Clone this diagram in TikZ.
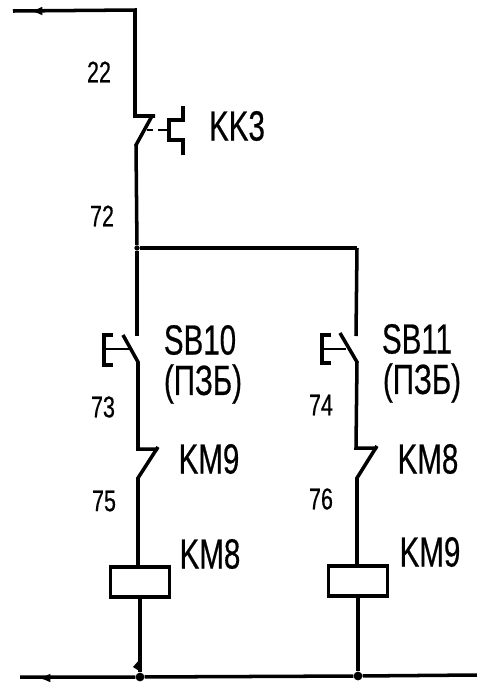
\documentclass[tikz,border=0pt]{standalone}
\usepackage{fontspec}
\setmainfont{Liberation Sans}
\newfontfamily\lblfont{Liberation Sans}[FakeBold=0.6]
\usetikzlibrary{arrows.meta}
\tikzset{
  wire/.style={line width=2pt,line join=miter},
  tip/.style={line width=2pt,-{Latex[length=7pt,width=5pt]}},
  coil/.style={draw,line width=2pt,minimum width=1.18cm,minimum height=0.6cm,inner sep=0pt},
  dot/.style={circle,fill,inner sep=0pt,minimum size=5pt},
  tag/.style={font=\lblfont\fontsize{24}{26}\selectfont,xscale=0.7,inner sep=0pt,align=center},
  num/.style={font=\lblfont\fontsize{17}{20}\selectfont,xscale=0.72,inner sep=0pt}
}
\begin{document}
\begin{tikzpicture}[x=0.02cm,y=-0.02cm]
  \useasboundingbox (0,0) rectangle (477,684);

  \coordinate (inL) at (13,11);
  \coordinate (inT) at (135,10);
  \coordinate (kkA) at (135,116);
  \coordinate (kkB) at (155,116);
  \coordinate (kkC) at (136,145);
  \node[dot,minimum size=3pt] (fork) at (137,248) {};
  \coordinate (forkR) at (357,248);
  \coordinate (busL) at (20,677);
  \coordinate (busR) at (477,675);

  \node[num] (n22) at (99,72) {22};
  \node[num] (n72) at (102,216) {72};
  \node[tag] (kk3) at (237,126) {KK3};

  % top line
  \draw[wire] (inL) -- (inT) -- (kkA) -- (kkB);
  \draw[tip] (42,11) -- (30,11);
  \draw[wire] (152,116) -- (kkC) -- (fork);
  \draw[wire] (fork) -- (forkR);

  % thermal relay
  \draw[wire,line width=1.4pt] (147,130) -- (153,130);
  \draw[wire,line width=1.4pt] (158,130) -- (168,130);
  \draw[wire] (183,106) -- (183,120) -- (169,120) -- (169,140) -- (183,140) -- (183,155);

  % left branch
  \coordinate (lsA) at (137,336);
  \coordinate (lsB) at (123,335);
  \coordinate (lsC) at (138,362);
  \coordinate (lkA) at (138,449);
  \coordinate (lkB) at (158,449);
  \coordinate (lkC) at (138,478);
  \node[coil] (lcoil) at (140,582) {};
  \node[dot] (ldot) at (140,677) {};
  \draw[wire] (fork) -- (lsA);
  \draw[wire] (lsB) -- (lsC) -- (lkA) -- (lkB);
  \draw[wire] (158,447) -- (lkC) -- (lcoil.north -| lkC);
  \draw[wire] (lcoil) -- (ldot);
  \draw[wire] (113,335) -- (104,335) -- (104,365) -- (113,365);
  \draw[wire,line width=1.4pt] (104,349) -- (130,349);
  \fill (133,667) -- (140,659) -- (141,672) -- cycle;

  \node[tag] (sb10) at (200,340) {SB10};
  \node[tag] (pzb1) at (203,384) {(ПЗБ)};
  \node[num] (n73) at (103,407) {73};
  \node[tag] (km9a) at (209,459) {KM9};
  \node[num] (n75) at (104,501) {75};
  \node[tag] (km8a) at (210,554) {KM8};

  % right branch
  \coordinate (rsA) at (356,336);
  \coordinate (rsB) at (340,333);
  \coordinate (rsC) at (357,362);
  \coordinate (rkA) at (356,448);
  \coordinate (rkB) at (377,448);
  \coordinate (rkC) at (357,478);
  \node[coil] (rcoil) at (358,581) {};
  \node[dot] (rdot) at (358,676) {};
  \draw[wire] (forkR) -- (rsA);
  \draw[wire] (rsB) -- (rsC) -- (rkA) -- (rkB);
  \draw[wire] (377,446) -- (rkC) -- (rcoil.north -| rkC);
  \draw[wire] (rcoil) -- (rdot);
  \draw[wire] (331,335) -- (322,335) -- (322,363) -- (331,363);
  \draw[wire,line width=1.4pt] (322,349) -- (346,349);

  \node[tag] (sb11) at (417,339) {SB11};
  \node[tag] (pzb2) at (422,383) {(ПЗБ)};
  \node[num] (n74) at (321,405) {74};
  \node[tag] (km8b) at (428,459) {KM8};
  \node[num] (n76) at (321,499) {76};
  \node[tag] (km9b) at (430,552) {KM9};

  % bottom line
  \draw[wire] (busL) -- (ldot) -- (rdot) -- (busR);
  \draw[tip] (50,678) -- (38,678);
\end{tikzpicture}
\end{document}
